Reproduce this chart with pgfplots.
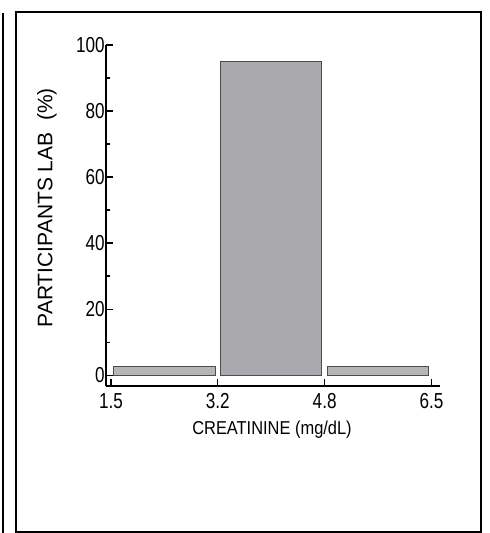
\documentclass[border=0pt]{standalone}
\usepackage{pgfplots}
\pgfplotsset{compat=1.18}
\usepackage{fontspec}
\setmainfont{Liberation Sans}
\definecolor{sidebar}{RGB}{182,182,182}
\definecolor{midbar}{RGB}{170,170,174}
\newcommand\tl[1]{\scalebox{0.79}[1]{\fontsize{13}{14}\selectfont #1}}
\begin{document}
\begin{tikzpicture}[x=0.6pt,y=0.6pt]
\useasboundingbox (0,0) rectangle (489,533);
\draw[line width=1.1pt] (15.7,1) rectangle (481,521);
\draw[line width=1.1pt] (3,0) -- (3,520);
\begin{axis}[
  at={(63.6pt,88.2pt)}, anchor=south west, scale only axis,
  width=200.4pt, height=204.6pt,
  xmin=-0.047, xmax=3.08, ymin=-3.3, ymax=100,
  axis x line=bottom, axis y line=left,
  axis line style={-, line width=0.8pt},
  xtick={0,1,2,3},
  xticklabels={\tl{1.5},\tl{3.2},\tl{4.8},\tl{6.5}},
  ytick={0,20,40,60,80,100},
  yticklabels={\tl{0},\tl{20},\tl{40},\tl{60},\tl{80},\tl{100}},
  minor ytick={10,30,50,70,90},
  tick align=inside,
  major tick length=4pt, minor tick length=2.4pt,
  tick style={line width=0.7pt, black},
  yticklabel style={inner sep=0.6pt},
  xticklabel style={inner sep=1pt, yshift=-3.5pt},
  xlabel={\scalebox{0.88}[1]{CREATININE (mg/dL)}},
  ylabel={PARTICIPANTS LAB\ \ (\%)},
  xlabel style={font=\fontsize{11.2}{13}\selectfont, at={(axis description cs:0.497,-0.129)}, anchor=center},
  ylabel style={font=\fontsize{12.6}{14}\selectfont, at={(axis description cs:-0.177,0.523)}, anchor=center},
]
\addplot[ybar, bar shift=0pt, bar width=0.95, fill=sidebar, draw=black!70, line width=0.6pt] coordinates {(0.5,2.5) (2.5,2.5)};
\addplot[ybar, bar shift=0pt, bar width=0.95, fill=midbar, draw=black!70, line width=0.6pt] coordinates {(1.5,95)};
\end{axis}
\end{tikzpicture}
\end{document}
